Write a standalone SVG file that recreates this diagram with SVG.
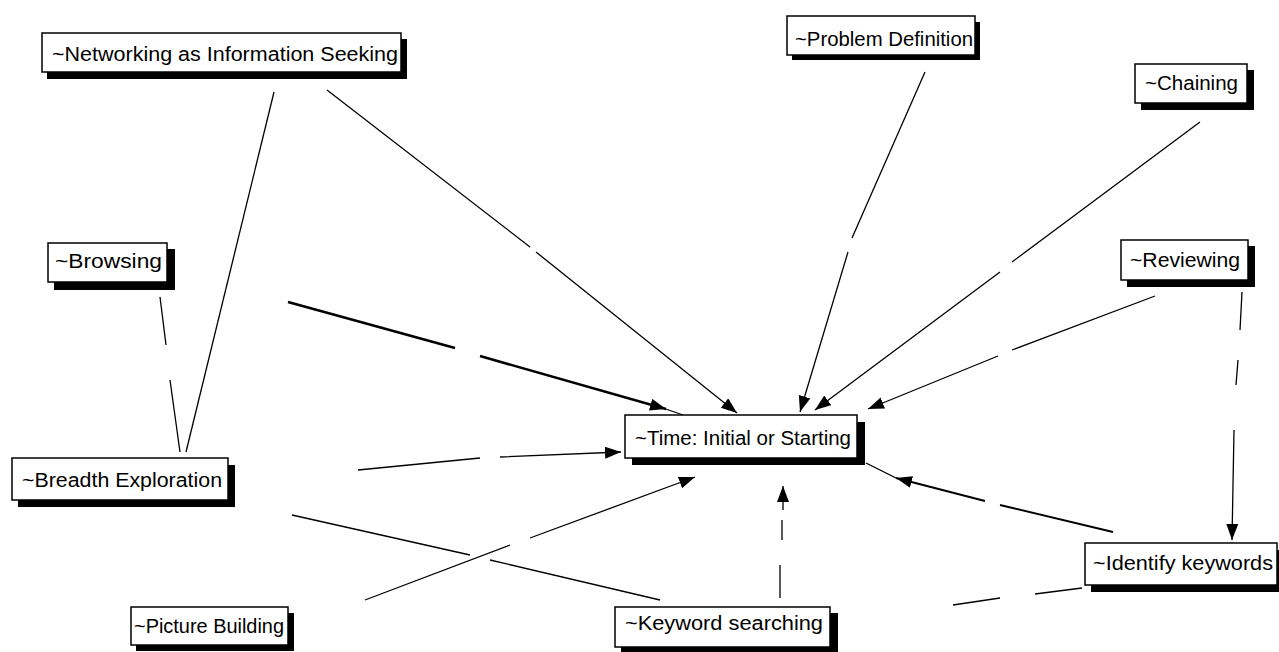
<svg xmlns="http://www.w3.org/2000/svg" width="1279" height="652" viewBox="0 0 1279 652">
<style>
.box{fill:#fff;stroke:#000;stroke-width:1.5}
.sh{fill:#000}
.t{font-family:"Liberation Sans",Arial,sans-serif;font-size:20px;fill:#000}
.c{fill:none;stroke:#000;stroke-width:1.3}
.thick{stroke-width:2.6}
.med{stroke-width:2}
</style>
<defs>
<marker id="ah" markerUnits="userSpaceOnUse" markerWidth="18" markerHeight="14" refX="16" refY="6" orient="auto">
<path d="M0,0 L16,6 L0,12 Z" fill="#000"/>
</marker>
</defs>
<rect width="1279" height="652" fill="#fff"/>
<g id="connectors">
<path class="c" d="M327,90 L530,247 M536,252 L737,413" marker-end="url(#ah)"/>
<path class="c" d="M274,92 L186,452"/>
<path class="c" d="M160,297 L166,345 M170,380 L180,452"/>
<path class="c thick" d="M288,302 L455,348 M480,356 L666,409" marker-end="url(#ah)"/>
<path class="c" d="M660,407 L683,415"/>
<path class="c" d="M925,72 L852,238 M848,252 L800,412" marker-end="url(#ah)"/>
<path class="c" d="M1200,122 L1012,262 M1000,272 L815,410" marker-end="url(#ah)"/>
<path class="c" d="M1155,296 L1012,350 M998,356 L868,409" marker-end="url(#ah)"/>
<path class="c" d="M1242,292 L1240,330 M1238,360 L1236,385 M1234,430 L1232,540" marker-end="url(#ah)"/>
<path class="c med" d="M1113,532 L1000,505 M985,501 L896,478" marker-end="url(#ah)"/>
<path class="c" d="M896,478 L866,463"/>
<path class="c" d="M1082,588 L1035,594 M1000,598 L953,605"/>
<path class="c" d="M358,470 L480,458 M500,457 L621,452" marker-end="url(#ah)"/>
<path class="c" d="M292,515 L470,555 M490,560 L660,600"/>
<path class="c" d="M365,600 L510,545 M530,538 L695,477" marker-end="url(#ah)"/>
<path class="c" d="M780,598 L780,565 M782,540 L782,520 M783,510 L783,486" marker-end="url(#ah)"/>
</g>
<g id="n-networking">
<rect class="sh" x="47" y="39" width="360" height="40"/>
<rect class="box" x="42" y="33" width="359" height="39"/>
<text class="t" x="52" y="61" textLength="346" lengthAdjust="spacingAndGlyphs">~Networking as Information Seeking</text>
</g>
<g id="n-problem">
<rect class="sh" x="792" y="22" width="188" height="38"/>
<rect class="box" x="787" y="16" width="188" height="39"/>
<text class="t" x="795" y="46" textLength="178" lengthAdjust="spacingAndGlyphs">~Problem Definition</text>
</g>
<g id="n-chaining">
<rect class="sh" x="1141" y="70" width="113" height="40"/>
<rect class="box" x="1135" y="64" width="112" height="39"/>
<text class="t" x="1145" y="90" textLength="93" lengthAdjust="spacingAndGlyphs">~Chaining</text>
</g>
<g id="n-reviewing">
<rect class="sh" x="1127" y="246" width="128" height="41"/>
<rect class="box" x="1121" y="240" width="127" height="40"/>
<text class="t" x="1130" y="267" textLength="110" lengthAdjust="spacingAndGlyphs">~Reviewing</text>
</g>
<g id="n-browsing">
<rect class="sh" x="54" y="249" width="121" height="41"/>
<rect class="box" x="48" y="243" width="119" height="39"/>
<text class="t" x="55" y="268" textLength="107" lengthAdjust="spacingAndGlyphs">~Browsing</text>
</g>
<g id="n-time">
<rect class="sh" x="632" y="422" width="233" height="43"/>
<rect class="box" x="625" y="415" width="232" height="43"/>
<text class="t" x="635" y="445" textLength="216" lengthAdjust="spacingAndGlyphs">~Time: Initial or Starting</text>
</g>
<g id="n-breadth">
<rect class="sh" x="18" y="465" width="217" height="42"/>
<rect class="box" x="12" y="458" width="216" height="42"/>
<text class="t" x="22" y="487" textLength="200" lengthAdjust="spacingAndGlyphs">~Breadth Exploration</text>
</g>
<g id="n-identify">
<rect class="sh" x="1091" y="550" width="190" height="42"/>
<rect class="box" x="1085" y="543" width="192" height="42"/>
<text class="t" x="1093" y="570" textLength="180" lengthAdjust="spacingAndGlyphs">~Identify keywords</text>
</g>
<g id="n-picture">
<rect class="sh" x="136" y="613" width="158" height="38"/>
<rect class="box" x="131" y="607" width="157" height="38"/>
<text class="t" x="134" y="633" textLength="150" lengthAdjust="spacingAndGlyphs">~Picture Building</text>
</g>
<g id="n-keyword">
<rect class="sh" x="621" y="613" width="217" height="40"/>
<rect class="box" x="615" y="607" width="215" height="40"/>
<text class="t" x="625" y="630" textLength="198" lengthAdjust="spacingAndGlyphs">~Keyword searching</text>
</g>
</svg>
